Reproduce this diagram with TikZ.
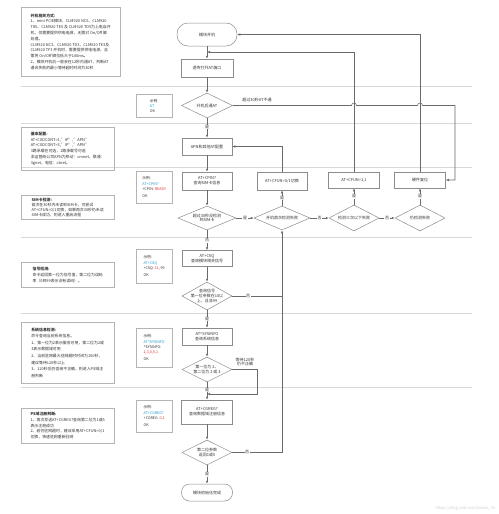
\documentclass[tikz,border=0pt]{standalone}
\usepackage{fontspec}
\setmainfont{Noto Sans CJK SC}
\usetikzlibrary{shapes.geometric,arrows.meta}
\definecolor{ln}{HTML}{6A6A6A}
\definecolor{bd}{HTML}{8C8C8C}
\definecolor{nb}{HTML}{B4B4B4}
\definecolor{sepc}{HTML}{D8D8D8}
\definecolor{blu}{HTML}{1E9BD7}
\definecolor{rd}{HTML}{E0303A}
\definecolor{tx}{HTML}{333333}
\begin{document}
\begin{tikzpicture}[x=1pt,y=-1pt,
  font=\fontsize{4}{4.8}\selectfont, text=tx,
  proc/.style={draw=bd, line width=0.5pt, rectangle, minimum width=50pt, minimum height=17pt, inner sep=0.5pt, align=center, fill=white},
  term/.style={proc, rounded corners=8pt},
  dec/.style={draw=bd, line width=0.5pt, diamond, inner sep=0pt, fill=white},
  dtext/.style={align=center, font=\fontsize{4}{4.8}\selectfont, inner sep=0pt},
  note/.style={draw=nb, line width=0.4pt, anchor=north west, align=left, inner sep=2.5pt, minimum width=93pt, font=\fontsize{3.9}{5.8}\selectfont},
  exbox/.style={draw=nb, line width=0.4pt, anchor=north west, align=left, inner sep=2pt, minimum width=36pt, font=\fontsize{3.7}{5.2}\selectfont},
  flow/.style={draw=ln, line width=0.55pt, -{Latex[length=3pt,width=2.4pt]}},
  plain/.style={draw=ln, line width=0.55pt},
  sepl/.style={draw=sepc, line width=0.6pt},
  yn/.style={fill=white, inner sep=0.6pt, font=\fontsize{4}{4.4}\selectfont},
  lbl/.style={inner sep=0.5pt, align=center, font=\fontsize{4}{4.8}\selectfont},
]
\useasboundingbox[fill=white] (0,0) rectangle (498,514);

% separators
\foreach \yy in {86,123,167,237,313,387} {\draw[sepl] (21,\yy) -- (472,\yy);}

% notes
\node[note, minimum width=99pt, minimum height=69pt] (n1) at (21,7) {\textbf{开机相关方式:}\\
1、mini PCIE模块，CLM920 NC5、CLM920\\
T85、CLM920 TE5 及 CLM920 TD5为上电自开\\
机，仅需要提供供电电源，无需对 On/Off 脚\\
处理。\\
CLM920 NC3、CLM920 TD3、CLM920 TE3及\\
CLM920 TF3 开机时，需要提供供电电源，且\\
需将 On/Off 脚拉低大于100ms。\\
2、模块开机后一般会在12秒内通AT，判断AT\\
通讯失败的最小等待超时时间为30秒};

\node[note, minimum height=43pt] (n2) at (21,127) {\textbf{基本配置:}\\
AT+CGDCONT=1,"IP","APN"\\
AT+CGDCONT=3,"IP","APN"\\
3路承载在可选，1路承载号可选\\
本运营商公司APN为移动：cmnet，联通：\\
3gnet，电信：ctnet。};

\node[note, minimum height=22pt, font=\fontsize{3.9}{5.2}\selectfont] (n3) at (21,195) {\textbf{SIM卡检测:}\\
首次在30秒内未读到SIM卡，可尝试\\
AT+CFUN=0/1切换，如果再次30秒仍未读\\
SIM卡成功，则进入重启流程};

\node[note, minimum height=25pt] (n4) at (21,262) {\textbf{信号检测:}\\
命令返回第一位为信号值，第二位为误码\\
率（0到99表示没有误码）。};

\node[note, minimum height=61pt, font=\fontsize{3.9}{6.6}\selectfont] (n5) at (21,322) {\textbf{系统信息检测:}\\
命令查询当前系统信息。\\
1、第一位为2表示服务可用，第二位为2或\\
3表示数据域可用\\
2、当前驻网最大驻网超时时间为150秒，\\
建议等待120秒以上\\
3、120秒后仍查询不正确，则进入PS域注\\
册判断};

\node[note, minimum height=35pt] (n6) at (21,408) {\textbf{PS域注册判断:}\\
1、再次发送AT+CGREG?查询第二位为1或5\\
表示注册成功\\
2、若仍驻网超时，建议采用AT+CFUN=0/1\\
切换，快速驻网重新驻网};

% examples
\node[exbox, minimum height=23pt] (e1) at (136,94) {示例:\\\textcolor{blu}{AT}\\OK};
\node[exbox, minimum height=32pt] (e2) at (136,171) {示例:\\\textcolor{blu}{AT+CPIN?}\\+CPIN: \textcolor{rd}{READY}\\[2pt]OK};
\node[exbox, minimum height=34pt] (e3) at (136,249) {示例:\\\textcolor{blu}{AT+CSQ}\\+CSQ: \textcolor{rd}{31}, 99\\[2pt]OK};
\node[exbox, minimum height=39pt] (e4) at (136,328) {示例:\\\textcolor{blu}{AT\textasciicircum SYSINFO}\\\textasciicircum SYSINFO:\\\textcolor{rd}{2,3,0,5,1}\\[2pt]OK};
\node[exbox, minimum height=32pt] (e5) at (136,400) {示例:\\\textcolor{blu}{AT+CGREG?}\\+CGREG: \textcolor{rd}{0,1}\\[2pt]OK};

% flow nodes
\node[term, minimum width=60pt, minimum height=23pt, rounded corners=11pt] (t1) at (207,34.5) {模块开机};
\node[proc, minimum width=52pt, minimum height=18pt] (p1) at (207,68) {透传打开AT端口};
\node[dec, minimum width=51pt, minimum height=25pt, label={[dtext]center:{开机后通AT}}] (d1) at (207,105.5) {};
\node[proc] (apn) at (207,146.5) {APN和其他AT配置};
\node[proc, minimum height=18pt] (cpin) at (207,181) {AT+CPIN?\\查询SIM卡信息};
\node[dec, minimum width=58pt, minimum height=24pt, label={[dtext]center:{超过30秒没检测\\到SIM卡}}] (dsim) at (207,218) {};
\node[dec, minimum width=56pt, minimum height=24pt, label={[dtext]center:{开机首次检测失败}}] (d2) at (282,218) {};
\node[proc, minimum height=18pt] (c01) at (282,181) {AT+CFUN=0/1切换};
\node[dec, minimum width=50pt, minimum height=26pt, label={[dtext]center:{检测三次以下失败}}] (d3) at (354,218) {};
\node[proc, minimum width=51pt, minimum height=16pt] (c11) at (354,180) {AT+CFUN=1,1};
\node[dec, minimum width=50pt, minimum height=26pt, label={[dtext]center:{仍检测失败}}] (d4) at (420,218) {};
\node[proc, minimum width=51pt, minimum height=16pt] (hw) at (420,180) {硬件复位};
\node[proc, minimum height=16pt] (csq) at (207,258.5) {AT+CSQ\\查询模块相关信号};
\node[dec, minimum width=50pt, minimum height=28pt, label={[dtext]center:{查询信号\\第一位参数在10以\\上，且非99}}] (dsig) at (207,296) {};
\node[proc] (sys) at (207,336.5) {AT\textasciicircum SYSINFO\\查询系统信息};
\node[dec, minimum width=50pt, minimum height=25pt, label={[dtext]center:{第一位为 2、\\第二位为 2 或 3}}] (dsys) at (207,369.5) {};
\node[proc, minimum width=51pt, minimum height=24pt] (cg) at (207,412) {AT+CGREG?\\查询数据域注册信息};
\node[dec, minimum width=50pt, minimum height=25pt, label={[dtext]center:{第二位参数\\返回1或5}}] (dcg) at (207,452.5) {};
\node[term, minimum width=51pt, minimum height=17pt, rounded corners=8pt] (fin) at (207,492.5) {模块初始化完成};

\coordinate (j1) at (207,52);
\coordinate (j2) at (207,394);
\coordinate (k1) at (455,105.5);
\coordinate (k2) at (257,369.5);
\coordinate (k3) at (257,394);

% connectors
\draw[flow] (t1) -- (p1);
\draw[flow] (p1) -- (d1);
\draw[flow] (d1) -- node[yn, pos=0.45] {是} (apn);
\draw[flow] (apn) -- (cpin);
\draw[flow] (cpin) -- (dsim);
\draw[flow] (dsim) -- node[yn] {是} (d2);
\draw[flow] (dsim) -- node[yn] {否} (csq);
\draw[flow] (d2) -- node[yn] {是} (c01);
\draw[flow] (c01.north) |- (apn.east);
\draw[flow] (d2) -- node[yn] {否} (d3);
\draw[flow] (d3) -- node[yn] {是} (c11);
\draw[flow] (d3) -- node[yn] {否} (d4);
\draw[flow] (d4) -- node[yn] {是} (hw);
\draw[flow] (c11.north) |- (j1);
\draw[flow] (hw.north) |- (t1.east);
\draw[flow] (d1.east) -- (351.5,105.5) arc[start angle=180, end angle=360, radius=2.5] -- (417.5,105.5) arc[start angle=180, end angle=360, radius=2.5] -- (k1) |- (hw.east);
\node[lbl] (l1) at (257,100) {超过30秒AT不通};
\draw[flow] (csq) -- (dsig);
\draw[plain] (dsig.east) -- node[yn, pos=0.32] {否} (282,296);
\draw[flow] (dsig) -- node[yn] {是} (sys);
\draw[flow] (sys) -- (dsys);
\draw[flow] (dsys) -- node[yn, pos=0.45] {是} (cg);
\draw[flow] (dsys.east) -- (k2) -- (k3) -- (j2);
\node[lbl] (l2) at (245,362) {等待120秒\\仍不正确};
\draw[flow] (cg) -- (dcg);
\draw[flow] (dcg.east) -| node[yn, pos=0.15] {否} (d2.south);
\draw[flow] (dcg) -- node[yn] {是} (fin);

\node[lbl, text=black!18, anchor=east] (wm) at (496,508) {https://blog.csdn.net/weixin\_43};
\end{tikzpicture}
\end{document}
